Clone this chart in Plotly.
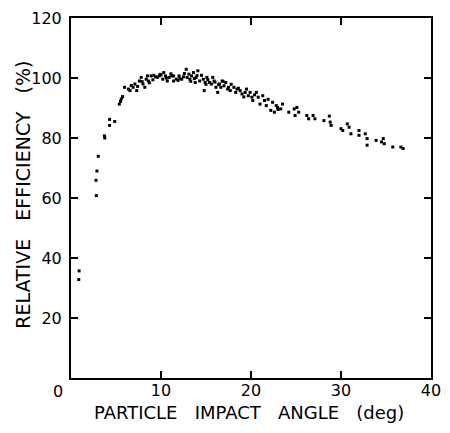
import plotly.graph_objects as go

# Particle impact angle (deg)
angle = [
    0.9, 0.86,
    2.81, 2.78, 2.88, 3.03, 3.71, 3.75, 4.29, 4.29, 4.86,
    5.37, 5.5, 5.59, 5.73, 5.95, 6.38, 6.56, 6.7, 6.9, 7.1, 7.3, 7.6, 7.8, 8.0,
    8.2, 8.36, 8.5, 8.9, 9.1, 9.4, 9.6, 9.8, 10.2, 10.3, 10.5, 10.7, 10.9, 11.2, 11.4,
    11.4, 11.7, 12.0, 12.3, 12.6, 12.8, 12.9, 13.2, 13.4, 13.6, 13.8, 13.9, 14.1, 14.3,
    14.7, 14.8, 14.9, 15.1, 15.4, 15.6, 15.75, 15.9, 16.1, 16.3, 16.5, 16.65, 16.8,
    17.0, 17.2, 17.4, 17.5, 17.7, 18.1, 18.3, 18.45, 18.8, 19.0, 19.35, 19.7,
    19.5, 19.9, 20.1, 20.2, 20.6, 20.8, 21.0, 21.3, 21.5, 21.7, 22.2, 22.4, 22.6,
    22.8, 22.95, 23.3, 23.5, 24.2, 24.8, 24.9, 25.1, 25.3, 26.2, 26.4, 26.9, 27.1,
    28.1, 28.7, 28.8, 28.9, 30.0, 30.2, 30.7, 30.9, 31.1, 32.0, 32.0, 32.7, 32.9,
    32.9, 33.9, 34.5, 34.7, 34.8, 35.75, 36.65, 36.9,
    8.6, 9.2, 9.9, 10.6, 11.1, 11.9, 12.5, 13.1, 13.7, 14.5, 15.2, 16.0, 16.9, 17.8,
    7.4, 7.9, 8.7, 10.0, 12.1, 13.3, 14.0, 15.0, 16.4, 18.6, 19.2, 20.4, 21.9, 23.0,
]
# Relative efficiency (%)
efficiency = [
    35.7, 32.8,
    60.8, 65.9, 69.0, 73.9, 80.7, 80.0, 86.2, 84.2, 85.5,
    91.3, 92.2, 93.0, 93.8, 96.9, 96.3, 95.8, 97.5, 96.9, 98.0, 95.8, 99.0, 100.2, 98.0,
    96.9, 99.6, 100.7, 100.7, 99.4, 100.4, 100.2, 100.7, 99.6, 101.8, 100.7, 99.0, 100.2, 100.7, 99.0,
    100.7, 99.6, 100.7, 99.6, 101.5, 102.9, 100.2, 99.6, 100.7, 101.8, 98.5, 100.2, 102.4, 99.0,
    99.6, 95.8, 98.5, 100.2, 98.5, 98.0, 100.2, 99.0, 96.9, 95.2, 98.0, 96.9, 99.0,
    97.4, 98.5, 96.3, 96.9, 95.8, 96.9, 95.2, 96.3, 95.8, 94.7, 95.2, 94.1,
    96.3, 95.2, 93.6, 92.5, 95.2, 93.6, 91.3, 94.1, 92.5, 90.8, 89.2, 91.9, 88.6,
    90.8, 90.2, 89.7, 91.3, 88.6, 89.7, 87.5, 90.2, 88.6, 87.5, 86.4, 87.5, 86.4,
    85.8, 87.3, 85.3, 84.2, 83.1, 82.5, 84.7, 83.6, 81.4, 82.5, 80.9, 81.4, 79.8,
    77.6, 79.2, 78.7, 79.8, 78.1, 77.0, 77.0, 76.5,
    99.0, 100.9, 101.2, 100.0, 101.4, 99.2, 100.4, 101.3, 99.8, 100.9, 99.4, 98.6, 98.9, 97.9,
    97.2, 98.8, 98.4, 101.0, 99.9, 98.9, 100.8, 97.9, 97.8, 96.6, 93.7, 94.4, 92.9, 89.5,
]

x_ticks = [10, 20, 30, 40]
y_ticks = [20, 40, 60, 80, 100, 120]

x_title = "PARTICLE\u00a0\u00a0\u00a0IMPACT\u00a0\u00a0\u00a0ANGLE\u00a0\u00a0\u00a0(deg)"
y_title = "RELATIVE\u00a0\u00a0\u00a0EFFICIENCY\u00a0\u00a0\u00a0(%)"

font_family = "DejaVu Sans"

fig = go.Figure()
fig.add_trace(go.Scatter(
    x=angle, y=efficiency, mode="markers",
    marker=dict(symbol="square", size=3, color="black", line=dict(width=0)),
    showlegend=False,
))

axis_common = dict(
    showgrid=False, zeroline=False, showline=True, linecolor="black", linewidth=2,
    mirror="allticks", ticks="inside", ticklen=7, tickwidth=1.5, tickcolor="black",
    tickfont=dict(family=font_family, size=16, color="black"),
)

fig.update_xaxes(range=[0, 40], tickvals=x_ticks, ticktext=[str(v) for v in x_ticks],
                 ticklabelstandoff=-3, **axis_common)
fig.update_yaxes(range=[0, 120], tickvals=y_ticks, ticktext=[str(v) for v in y_ticks],
                 ticklabelstandoff=4, **axis_common)

# axis titles
fig.add_annotation(
    text=x_title, xref="paper", yref="paper", x=0.4946, y=-0.096, showarrow=False,
    xanchor="center", yanchor="middle",
    font=dict(family=font_family, size=18, color="black"),
)
fig.add_annotation(
    text=y_title, xref="paper", yref="paper", x=-0.1324, y=0.51, showarrow=False,
    xanchor="center", yanchor="middle", textangle=-90,
    font=dict(family=font_family, size=19, color="black"),
)
# shared origin label
fig.add_annotation(
    text="0", xref="paper", yref="paper", x=-0.035, y=-0.038, showarrow=False,
    xanchor="center", yanchor="middle",
    font=dict(family=font_family, size=16, color="black"),
)

fig.update_layout(
    width=450, height=433,
    margin=dict(l=71, r=9, t=15, b=55),
    paper_bgcolor="white", plot_bgcolor="white",
)

fig.write_html("out.html")
